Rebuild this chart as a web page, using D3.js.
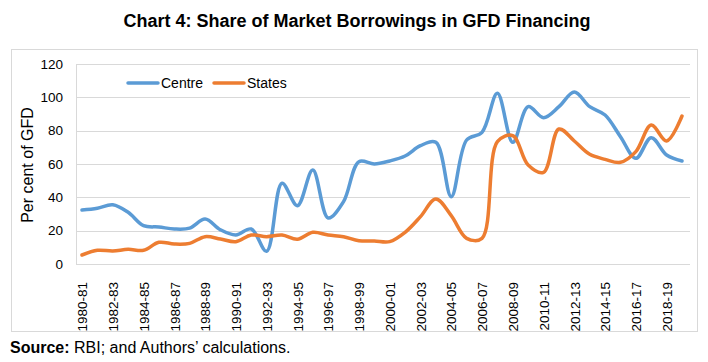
<!DOCTYPE html>
<meta charset="utf-8">
<style>
    body { margin: 0; background: #fff; }
    text { font-family: "Liberation Sans", Arial, sans-serif; fill: #000; }
    .grid line { stroke: #d9d9d9; stroke-width: 1px; }
    .line { fill: none; stroke-width: 3.5px; stroke-linejoin: round; stroke-linecap: round; }
</style>
<svg></svg>
<script src="https://cdn.jsdelivr.net/npm/d3@7"></script>
<script>

    var width = 708,
        height = 362;

    // fiscal years 1980-81 .. 2019-20
    var years = d3.range(1980, 2020).map(function(y) {
        return y + "-" + String((y + 1) % 100).padStart(2, "0");
    });

    var centre = [32.4, 33.5, 35.5, 31, 23, 22.2, 21, 21.5, 27, 20.5,
                  17.4, 21, 7.6, 48.5, 35, 56.4, 27.6, 37.4, 61.4, 60,
                  61.8, 64.8, 71, 73, 40.4, 74.4, 79, 102.4, 73, 94.4,
                  87.8, 94.4, 103.2, 94.4, 89.4, 76.4, 63.4, 75.8, 65.4, 61.8];

    var states = [5.4, 8.2, 7.8, 8.8, 8.2, 13, 12, 12.4, 16.4, 15,
                  13.4, 17.4, 16.4, 17.4, 14.8, 19, 17.4, 16.4, 14, 13.8,
                  13.4, 19, 28.4, 39, 29, 15.4, 15.4, 73.4, 77, 59.4,
                  55, 81, 73.8, 65.8, 62.8, 61, 67.4, 83.4, 73.8, 88.8];

    var yTicks = [0, 20, 40, 60, 80, 100, 120];

    var series = [
        {name: "Centre", values: centre, color: "#5b9bd5"},
        {name: "States", values: states, color: "#ed7d31"}
    ];

    var svg = d3.select("svg")
        .attr("width", width)
        .attr("height", height);

    // outer frame
    svg.append("rect")
        .attr("x", 11.5).attr("y", 49.5)
        .attr("width", 686).attr("height", 282)
        .attr("fill", "none")
        .attr("stroke", "#d9d9d9");

    svg.append("text")
        .attr("x", 357).attr("y", 27)
        .attr("text-anchor", "middle")
        .style("font-size", "18px")
        .style("font-weight", "bold")
        .text("Chart 4: Share of Market Borrowings in GFD Financing");

    var x = d3.scalePoint()
        .domain(years)
        .range([82, 682]);

    var y = d3.scaleLinear()
        .domain([0, 120])
        .range([264, 64]);

    var grid = svg.append("g").attr("class", "grid");
    grid.selectAll("line")
        .data(yTicks)
        .enter().append("line")
        .attr("x1", 76).attr("x2", 690)
        .attr("y1", function(d) { return Math.round(y(d)) + 0.5; })
        .attr("y2", function(d) { return Math.round(y(d)) + 0.5; });

    grid.append("line")
        .attr("x1", 76.5).attr("x2", 76.5)
        .attr("y1", y(120)).attr("y2", y(0));

    var yAxis = d3.axisLeft(y).tickValues(yTicks).tickSize(0).tickPadding(13);
    svg.append("g")
        .attr("transform", "translate(76,0)")
        .call(yAxis)
        .call(function(g) { g.select(".domain").remove(); })
        .selectAll("text")
        .style("font-family", "'Liberation Sans', Arial, sans-serif")
        .style("font-size", "13.5px")
        .attr("fill", "#000");

    var xAxis = d3.axisBottom(x)
        .tickValues(years.filter(function(d, i) { return i % 2 === 0; }))
        .tickSize(0);
    svg.append("g")
        .attr("transform", "translate(0,264)")
        .call(xAxis)
        .call(function(g) { g.select(".domain").remove(); })
        .selectAll("text")
        .style("font-family", "'Liberation Sans', Arial, sans-serif")
        .style("font-size", "13.5px")
        .attr("fill", "#000")
        .attr("text-anchor", "end")
        .attr("transform", "rotate(-90)")
        .attr("x", -18)
        .attr("y", 0)
        .attr("dy", "0.35em");

    svg.append("text")
        .attr("transform", "translate(33,165) rotate(-90)")
        .attr("text-anchor", "middle")
        .style("font-size", "16px")
        .text("Per cent of GFD");

    var line = d3.line()
        .x(function(d, i) { return x(years[i]); })
        .y(function(d) { return y(d); })
        .curve(d3.curveCatmullRom.alpha(0.5));

    svg.selectAll(".line")
        .data(series)
        .enter().append("path")
        .attr("class", "line")
        .attr("stroke", function(d) { return d.color; })
        .attr("d", function(d) { return line(d.values); });

    // legend
    var legendX = [128, 214];
    var legend = svg.selectAll(".legend")
        .data(series)
        .enter().append("g")
        .attr("transform", function(d, i) { return "translate(" + legendX[i] + ",83)"; });
    legend.append("line")
        .attr("x1", 0).attr("x2", 30)
        .attr("stroke", function(d) { return d.color; })
        .attr("stroke-width", 3.5)
        .attr("stroke-linecap", "round");
    legend.append("text")
        .attr("x", 33).attr("dy", "0.35em")
        .style("font-size", "14px")
        .text(function(d) { return d.name; });

    var src = svg.append("text")
        .attr("x", 10).attr("y", 353)
        .style("font-size", "16px");
    src.append("tspan").style("font-weight", "bold").text("Source:");
    src.append("tspan").text(" RBI; and Authors\u2019 calculations.");

</script>
